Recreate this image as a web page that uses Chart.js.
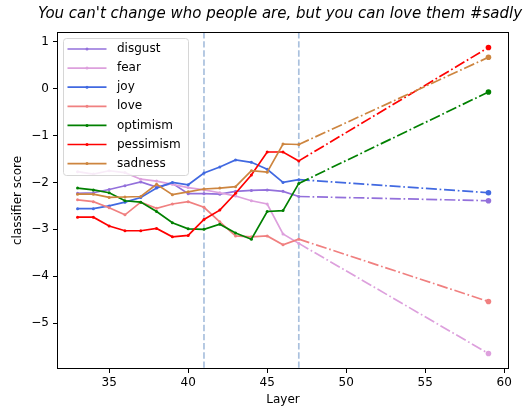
<!DOCTYPE html>
<html>
<head>
<meta charset="utf-8">
<script src="https://cdn.jsdelivr.net/npm/chart.js@4/dist/chart.umd.min.js"></script>
<style>
  html, body { margin: 0; padding: 0; background: #fff; }
  #wrap { width: 529px; height: 406px; }
</style>
</head>
<body>
<div id="wrap"><canvas id="c" width="529" height="406"></canvas></div>
<script>
// Layers inspected, plus the final layer the scores are extrapolated to
const layers = [33, 34, 35, 36, 37, 38, 39, 40, 41, 42, 43, 44, 45, 46, 47];
const finalLayer = 59;
const markedLayers = [41, 47];

const emotions = ['disgust', 'fear', 'joy', 'love', 'optimism', 'pessimism', 'sadness'];

const disgust   = [-2.23, -2.22, -2.15, -2.07, -1.99, -2.10, -2.02, -2.24, -2.24, -2.25, -2.19, -2.17, -2.16, -2.19, -2.30];
const fear      = [-1.77, -1.82, -1.75, -1.79, -1.93, -1.97, -2.04, -2.11, -2.16, -2.22, -2.29, -2.39, -2.46, -3.10, -3.30];
const joy       = [-2.56, -2.56, -2.50, -2.42, -2.32, -2.12, -2.00, -2.05, -1.80, -1.67, -1.52, -1.57, -1.72, -2.00, -1.94];
const love      = [-2.37, -2.41, -2.54, -2.69, -2.42, -2.55, -2.46, -2.41, -2.53, -2.84, -3.14, -3.16, -3.14, -3.33, -3.21];
const optimism  = [-2.12, -2.16, -2.22, -2.39, -2.42, -2.62, -2.86, -2.99, -3.00, -2.89, -3.08, -3.21, -2.62, -2.60, -2.02];
const pessimism = [-2.74, -2.74, -2.93, -3.03, -3.03, -2.98, -3.16, -3.13, -2.79, -2.59, -2.23, -1.84, -1.35, -1.35, -1.54];
const sadness   = [-2.25, -2.25, -2.32, -2.31, -2.30, -2.04, -2.26, -2.20, -2.14, -2.12, -2.09, -1.75, -1.78, -1.18, -1.19];

// Scores at the final layer
const finalScores = [-2.39, -5.65, -2.22, -4.54, -0.07, 0.88, 0.67];

const xTicks = [35, 40, 45, 50, 55, 60];
const yTicks = [1, 0, -1, -2, -3, -4, -5];

const titleText = "You can't change who people are, but you can love them #sadly";

const colors = ['#9370DB', '#DDA0DD', '#4169E1', '#F08080', '#008000', '#FF0000', '#CD853F'];
const seriesValues = [disgust, fear, joy, love, optimism, pessimism, sadness];

const FONT = 'DejaVu Sans';
const DASH_DOT = [11, 2.75, 1.7, 2.75];

const datasets = emotions.map((name, i) => {
  const pts = layers.map((l, k) => ({ x: l, y: seriesValues[i][k] }));
  pts.push({ x: finalLayer, y: finalScores[i] });
  return {
    label: name,
    data: pts,
    borderColor: colors[i],
    backgroundColor: colors[i],
    borderWidth: 1.7,
    pointRadius: ctx => (ctx.raw && ctx.raw.x === finalLayer ? 2.8 : 1.5),
    pointBorderWidth: 0,
    pointHoverRadius: 0,
    tension: 0,
    fill: false,
    order: emotions.length - i,
    segment: {
      borderDash: ctx => (ctx.p0.parsed.x >= 47 ? DASH_DOT : undefined)
    }
  };
});

// Dashed vertical markers at selected layers
const markerLines = {
  id: 'markerLines',
  beforeDatasetsDraw(chart) {
    const { ctx, chartArea, scales } = chart;
    ctx.save();
    ctx.strokeStyle = '#aac1de';
    ctx.lineWidth = 1.7;
    ctx.setLineDash([6.4, 2.75]);
    markedLayers.forEach(l => {
      const x = scales.x.getPixelForValue(l);
      ctx.beginPath();
      ctx.moveTo(x, chartArea.top);
      ctx.lineTo(x, chartArea.bottom);
      ctx.stroke();
    });
    ctx.restore();
  }
};

// Title centred over the plot area
const plotTitle = {
  id: 'plotTitle',
  afterDraw(chart) {
    const { ctx, chartArea } = chart;
    ctx.save();
    ctx.font = 'italic 15px "' + FONT + '"';
    ctx.fillStyle = '#000';
    ctx.textAlign = 'center';
    ctx.textBaseline = 'middle';
    ctx.fillText(titleText, (chartArea.left + chartArea.right) / 2 - 3, 14.5);
    ctx.restore();
  }
};

// Frame around the plot area and the boxed legend in its upper-left corner
const frameAndLegend = {
  id: 'frameAndLegend',
  afterDatasetsDraw(chart) {
    const { ctx, chartArea } = chart;
    ctx.save();
    ctx.strokeStyle = '#000';
    ctx.lineWidth = 1;
    ctx.strokeRect(Math.round(chartArea.left) + 0.5, Math.round(chartArea.top) + 0.5,
      Math.round(chartArea.right - chartArea.left) - 1, Math.round(chartArea.bottom - chartArea.top) - 1);

    const bx = chartArea.left + 6.5, by = chartArea.top + 6.5;
    const bw = 125, bh = 137, r = 3;
    ctx.beginPath();
    ctx.moveTo(bx + r, by);
    ctx.arcTo(bx + bw, by, bx + bw, by + bh, r);
    ctx.arcTo(bx + bw, by + bh, bx, by + bh, r);
    ctx.arcTo(bx, by + bh, bx, by, r);
    ctx.arcTo(bx, by, bx + bw, by, r);
    ctx.closePath();
    ctx.fillStyle = 'rgba(255,255,255,0.8)';
    ctx.fill();
    ctx.strokeStyle = '#d6d6d6';
    ctx.stroke();

    ctx.font = '12px "' + FONT + '"';
    ctx.textBaseline = 'middle';
    ctx.textAlign = 'left';
    chart.data.datasets.forEach((ds, i) => {
      const y = by + 10.5 + i * 19.1;
      ctx.strokeStyle = ds.borderColor;
      ctx.lineWidth = 1.7;
      ctx.setLineDash([]);
      ctx.beginPath();
      ctx.moveTo(bx + 4, y);
      ctx.lineTo(bx + 43, y);
      ctx.stroke();
      ctx.fillStyle = ds.borderColor;
      ctx.beginPath();
      ctx.arc(bx + 23.5, y, 1.5, 0, Math.PI * 2);
      ctx.fill();
      ctx.fillStyle = '#000';
      ctx.fillText(ds.label, bx + 53.5, y);
    });
    ctx.restore();
  }
};

new Chart(document.getElementById('c'), {
  type: 'line',
  data: { datasets },
  plugins: [markerLines, frameAndLegend, plotTitle],
  options: {
    responsive: false,
    animation: false,
    events: [],
    layout: { padding: { top: 32, right: 20, left: 0, bottom: 0 } },
    plugins: {
      legend: { display: false },
      tooltip: { enabled: false },
      title: { display: false }
    },
    scales: {
      x: {
        type: 'linear',
        min: 31.7,
        max: 60.3,
        afterBuildTicks: s => { s.ticks = xTicks.map(v => ({ value: v })); },
        afterFit: s => { s.height = 37; },
        grid: { display: true, drawOnChartArea: false, drawTicks: true, tickLength: 4, color: '#000', lineWidth: 1 },
        border: { display: false },
        ticks: {
          color: '#000',
          padding: 3,
          maxRotation: 0,
          font: { family: FONT, size: 12 },
          callback: v => String(v)
        },
        title: {
          display: true,
          text: 'Layer',
          color: '#000',
          font: { family: FONT, size: 12 },
          padding: { top: 0, bottom: -1 }
        }
      },
      y: {
        type: 'linear',
        min: -5.98,
        max: 1.21,
        afterBuildTicks: s => { s.ticks = yTicks.map(v => ({ value: v })); },
        afterFit: s => { s.width = 57; },
        grid: { display: true, drawOnChartArea: false, drawTicks: true, tickLength: 4, color: '#000', lineWidth: 1 },
        border: { display: false },
        ticks: {
          color: '#000',
          padding: 4,
          font: { family: FONT, size: 12 },
          callback: v => String(v).replace('-', '\u2212')
        },
        title: {
          display: true,
          text: 'classifier score',
          color: '#000',
          font: { family: FONT, size: 12 },
          padding: { top: 11, bottom: 0 }
        }
      }
    }
  }
});
</script>
</body>
</html>
